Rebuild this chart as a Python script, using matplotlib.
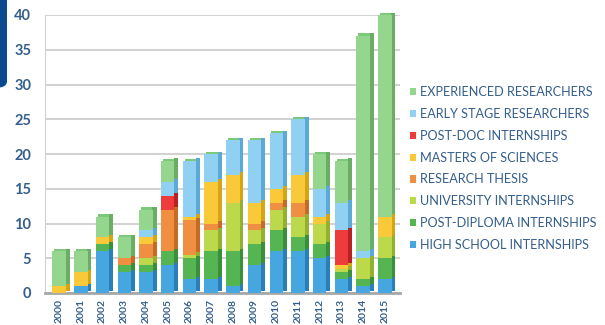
import matplotlib
matplotlib.use("Agg")
import matplotlib.pyplot as plt
import matplotlib.transforms as mtransforms
from matplotlib.patches import FancyBboxPatch, Patch
import numpy as np

years = [str(y) for y in range(2000, 2016)]

high_school     = [0, 1, 6, 3, 3, 4, 2, 2, 1, 4, 6, 6, 5, 2, 1, 2]
post_diploma    = [0, 0, 1, 1, 1, 2, 3, 4, 5, 3, 3, 2, 2, 1, 1, 3]
university      = [0, 0, 0, 0, 1, 0, 0.5, 3, 7, 2, 3, 3, 3, 0.5, 3, 3]
research_thesis = [0, 0, 0, 1, 2, 6, 5, 1, 0, 1, 1, 2, 0, 0, 0, 0]
masters         = [1, 2, 1, 0, 1, 0, 0.5, 6, 4, 3, 2, 4, 1, 0.5, 0, 3]
post_doc        = [0, 0, 0, 0, 0, 2, 0, 0, 0, 0, 0, 0, 0, 5, 0, 0]
early_stage     = [0, 0, 0, 0, 1, 2, 8, 4, 5, 9, 8, 8, 4, 4, 1, 0]
experienced     = [5, 3, 3, 3, 3, 3, 0, 0, 0, 0, 0, 0, 5, 6, 31, 29]

series_names = ["HIGH SCHOOL INTERNSHIPS", "POST-DIPLOMA INTERNSHIPS",
                "UNIVERSITY INTERNSHIPS", "RESEARCH THESIS",
                "MASTERS OF SCIENCES", "POST-DOC INTERNSHIPS",
                "EARLY STAGE RESEARCHERS", "EXPERIENCED RESEARCHERS"]
series_vals = [high_school, post_diploma, university, research_thesis,
               masters, post_doc, early_stage, experienced]
front_cols = ["#45a6e0", "#55b553", "#bcd94c", "#ee8f42",
              "#f9c93a", "#ee3b3b", "#8fd0f3", "#94d68e"]
side_cols = ["#2b7fb8", "#3a8f3a", "#93b02e", "#c76a22",
             "#d6a514", "#b82222", "#5aa9d6", "#6aae65"]

text_col = "#345f8c"

fig = plt.figure(figsize=(6.05, 3.25), dpi=100)
W, H = 605, 325
ax = fig.add_axes([45 / W, 32 / H, 355 / W, 278 / H])

x = np.arange(len(years))
fw = 0.62
sw = 0.19
side_tr = mtransforms.offset_copy(ax.transData, fig=fig, x=0, y=2.5, units="dots")

bottom = np.zeros(len(years))
for vals, fc, sc in zip(series_vals, front_cols, side_cols):
    v = np.array(vals, dtype=float)
    ax.bar(x + fw / 2 + sw / 2 - 0.01, v, sw, bottom=bottom, color=sc,
           linewidth=0, transform=side_tr, zorder=2, clip_on=False)
    ax.bar(x, v, fw, bottom=bottom, color=fc, linewidth=0, zorder=3,
           clip_on=False)
    bottom += v

# top faces
ax.bar(x + 0.09, np.full(len(years), 0.35), fw, bottom=bottom,
       color="#7cc97a", linewidth=0, zorder=1.5, clip_on=False)

ax.set_xlim(-0.65, len(years) - 0.3)
ax.set_ylim(0, 40)
ax.set_yticks(range(0, 41, 5))
ax.set_yticklabels([str(v) for v in range(0, 41, 5)], fontsize=10.5,
                   fontweight="bold", color=text_col, family="Lato")
ax.set_xticks(x)
ax.set_xticklabels(years, rotation=90, fontsize=7.5, color=text_col,
                   family="Lato", fontweight="bold")
ax.tick_params(axis="both", length=0)
ax.tick_params(axis="y", pad=10)
ax.tick_params(axis="x", pad=4)
ax.yaxis.grid(True, color="#c9c9c9", linewidth=1.2)
ax.set_axisbelow(True)
for s in ["top", "right"]:
    ax.spines[s].set_visible(False)
ax.spines["left"].set_color("#d0d0d0")
ax.spines["bottom"].set_color("#a8a8a8")
ax.spines["bottom"].set_linewidth(2)

handles = [Patch(facecolor=c, label=n) for c, n in zip(front_cols, series_names)]
leg = fig.legend(handles[::-1], series_names[::-1], loc="upper left",
                 bbox_to_anchor=(405 / W, 1 - 81 / H), frameon=False,
                 fontsize=9.1, handlelength=0.5, handleheight=0.5,
                 handletextpad=0.3, labelspacing=0.78, borderaxespad=0)
for t in leg.get_texts():
    t.set_color(text_col)
    t.set_family("Lato")

deco = FancyBboxPatch((-10 / W, 1 - 88 / H), 17 / W, 100 / H,
                      boxstyle="round,pad=0,rounding_size=0.02",
                      transform=fig.transFigure, facecolor="#0b4a8e",
                      edgecolor="none", zorder=10)
fig.patches.append(deco)

fig.savefig("out.png", dpi=100, facecolor="white")
